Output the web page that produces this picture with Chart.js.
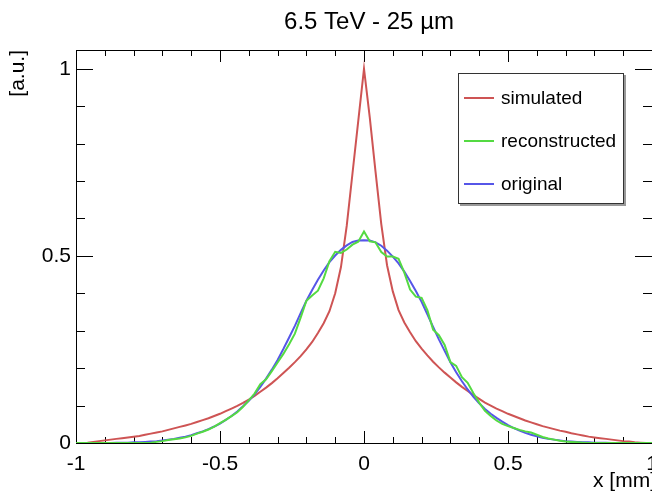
<!DOCTYPE html>
<html>
<head>
<meta charset="utf-8">
<script src="https://cdn.jsdelivr.net/npm/chart.js@4/dist/chart.umd.min.js"></script>
<style>
  html, body { margin: 0; padding: 0; overflow: hidden; background: #fff; }
  #wrap { position: relative; width: 738px; height: 491px; }
  #legend {
    position: absolute; left: 458px; top: 73px; width: 164px; height: 129px;
    border: 1px solid #333; box-shadow: 2px 2px 0 #999; background: #fff;
    font-family: "Liberation Sans", Arial, sans-serif; font-size: 19px; color: #000;
  }
  .row { position: absolute; left: 0; height: 24px; line-height: 24px; }
  .row .ln { position: absolute; left: 5px; top: 11px; width: 30px; height: 2px; }
  .row .tx { position: absolute; left: 42px; top: 0; white-space: nowrap; }
</style>
</head>
<body>
<div id="wrap">
  <canvas id="c" width="738" height="491"></canvas>
  <div id="legend"></div>
</div>
<script>
// ---- data ----
const titleText = "6.5 TeV - 25 \u00b5m";
const xAxisTitle = "x [mm]";
const yAxisTitle = "[a.u.]";
const xTickValues = [-1, -0.5, 0, 0.5, 1];
const yTickValues = [0, 0.5, 1];
const seriesNames = ["simulated", "reconstructed", "original"];
const seriesColors = ["rgb(206,84,84)", "rgb(84,218,66)", "rgb(86,86,232)"];

const xValues = [
  -1.00,-0.98,-0.96,-0.94,-0.92,-0.90,-0.88,-0.86,-0.84,-0.82,
  -0.80,-0.78,-0.76,-0.74,-0.72,-0.70,-0.68,-0.66,-0.64,-0.62,
  -0.60,-0.58,-0.56,-0.54,-0.52,-0.50,-0.48,-0.46,-0.44,-0.42,
  -0.40,-0.38,-0.36,-0.34,-0.32,-0.30,-0.28,-0.26,-0.24,-0.22,
  -0.20,-0.18,-0.16,-0.14,-0.12,-0.10,-0.08,-0.06,-0.04,-0.02,
   0.00,
   0.02, 0.04, 0.06, 0.08, 0.10, 0.12, 0.14, 0.16, 0.18, 0.20,
   0.22, 0.24, 0.26, 0.28, 0.30, 0.32, 0.34, 0.36, 0.38, 0.40,
   0.42, 0.44, 0.46, 0.48, 0.50, 0.52, 0.54, 0.56, 0.58, 0.60,
   0.62, 0.64, 0.66, 0.68, 0.70, 0.72, 0.74, 0.76, 0.78, 0.80,
   0.82, 0.84, 0.86, 0.88, 0.90, 0.92, 0.94, 0.96, 0.98, 1.00
];

const simulated = [
  0.000,0.000,0.001,0.003,0.005,0.007,0.009,0.011,0.013,0.015,
  0.017,0.019,0.022,0.025,0.028,0.031,0.035,0.039,0.043,0.047,
  0.051,0.056,0.061,0.066,0.072,0.078,0.085,0.092,0.099,0.107,
  0.116,0.126,0.137,0.148,0.160,0.173,0.187,0.201,0.216,0.232,
  0.250,0.270,0.294,0.320,0.352,0.400,0.470,0.580,0.720,0.860,
  1.000,
  0.870,0.725,0.585,0.475,0.405,0.355,0.322,0.296,0.272,0.252,
  0.234,0.217,0.202,0.188,0.175,0.162,0.150,0.139,0.128,0.118,
  0.108,0.100,0.092,0.085,0.078,0.072,0.066,0.060,0.055,0.050,
  0.045,0.041,0.037,0.033,0.030,0.026,0.023,0.020,0.017,0.015,
  0.013,0.011,0.009,0.007,0.005,0.004,0.002,0.001,0.000,0.000
];

const reconstructed = [
  0.000,0.000,0.000,0.000,0.000,0.000,0.000,0.000,0.000,0.000,
  0.000,0.000,0.000,0.001,0.003,0.005,0.008,0.010,0.012,0.015,
  0.019,0.025,0.030,0.036,0.044,0.053,0.062,0.072,0.082,0.097,
  0.114,0.132,0.157,0.170,0.192,0.215,0.238,0.264,0.292,0.335,
  0.380,0.394,0.407,0.440,0.486,0.511,0.508,0.517,0.530,0.538,
  0.565,
  0.539,0.536,0.510,0.498,0.498,0.492,0.455,0.410,0.391,0.388,
  0.355,0.303,0.288,0.262,0.216,0.206,0.176,0.161,0.133,0.108,
  0.086,0.072,0.060,0.051,0.045,0.040,0.035,0.031,0.028,0.022,
  0.016,0.012,0.009,0.006,0.004,0.003,0.002,0.001,0.000,0.000,
  0.000,0.000,0.000,0.000,0.000,0.000,0.000,0.000,0.000,0.000
];

const original = [
  0.000,0.000,0.000,0.000,0.000,0.000,0.000,0.001,0.001,0.001,
  0.002,0.002,0.003,0.004,0.005,0.007,0.009,0.011,0.014,0.017,
  0.021,0.026,0.031,0.037,0.044,0.052,0.062,0.072,0.084,0.098,
  0.113,0.130,0.150,0.172,0.196,0.222,0.251,0.282,0.313,0.347,
  0.380,0.409,0.436,0.461,0.483,0.501,0.516,0.528,0.537,0.541,
  0.542,
  0.541,0.536,0.527,0.514,0.498,0.480,0.458,0.433,0.406,0.377,
  0.344,0.310,0.277,0.246,0.216,0.189,0.165,0.143,0.123,0.106,
  0.091,0.078,0.067,0.057,0.048,0.040,0.033,0.027,0.022,0.018,
  0.014,0.011,0.009,0.007,0.005,0.004,0.003,0.002,0.002,0.001,
  0.001,0.001,0.000,0.000,0.000,0.000,0.000,0.000,0.000,0.000
];

const seriesValues = [simulated, reconstructed, original];
const FONT = "'Liberation Sans', Arial, sans-serif";

// ---- ROOT-like frame and inward ticks drawn from the chart's scales ----
const frameTicks = {
  id: 'frameTicks',
  beforeDatasetsDraw(chart) {
    const {ctx, chartArea: a, scales: {x, y}} = chart;
    ctx.save();
    ctx.strokeStyle = '#000';
    ctx.lineWidth = 1;
    ctx.strokeRect(a.left + 0.5, a.top + 0.5, a.right - a.left, a.bottom - a.top);
    ctx.beginPath();
    for (let i = -10; i <= 10; i++) {
      const v = i / 10;
      const px = Math.round(x.getPixelForValue(v)) + 0.5;
      const len = (i % 5 === 0) ? 12 : 6;
      ctx.moveTo(px, a.bottom); ctx.lineTo(px, a.bottom - len);
      ctx.moveTo(px, a.top); ctx.lineTo(px, a.top + len);
    }
    for (let i = 0; i <= 10; i++) {
      const v = i / 10;
      const py = Math.round(y.getPixelForValue(v)) + 0.5;
      const len = (i % 5 === 0) ? 17 : 9;
      ctx.moveTo(a.left, py); ctx.lineTo(a.left + len, py);
      ctx.moveTo(a.right, py); ctx.lineTo(a.right - len, py);
    }
    ctx.stroke();
    ctx.restore();
  },
  afterDraw(chart) {
    // x-axis title, right-aligned just past the end of the axis (ROOT style)
    const {ctx, chartArea: a} = chart;
    ctx.save();
    ctx.fillStyle = '#000';
    ctx.font = "21px " + FONT;
    ctx.textAlign = 'right';
    ctx.textBaseline = 'alphabetic';
    ctx.fillText(xAxisTitle, a.right + 4, 487);
    ctx.restore();
  }
};

const datasets = seriesNames.map((name, k) => ({
  label: name,
  data: xValues.map((xv, i) => ({x: xv, y: seriesValues[k][i]})),
  borderColor: seriesColors[k],
  backgroundColor: seriesColors[k],
  borderWidth: 2,
  pointRadius: 0,
  tension: 0,
  fill: false,
  order: k === 1 ? 0 : (k === 2 ? 1 : 2)
}));

new Chart(document.getElementById('c'), {
  type: 'line',
  data: { datasets },
  options: {
    responsive: false,
    animation: false,
    devicePixelRatio: 1,
    layout: { padding: 0 },
    plugins: {
      legend: { display: false },
      tooltip: { enabled: false },
      title: {
        display: true, text: titleText, color: '#000',
        font: { family: FONT, size: 24, weight: 'normal', lineHeight: 1.2 },
        padding: { top: 7.6, bottom: 13.6 }
      }
    },
    scales: {
      x: {
        type: 'linear', min: -1, max: 1,
        grid: { display: false, drawTicks: false },
        border: { display: false },
        afterBuildTicks: s => { s.ticks = xTickValues.map(v => ({value: v})); },
        afterFit: s => { s.height = 48; },
        ticks: {
          color: '#000', padding: 9, maxRotation: 0, autoSkip: false,
          font: { family: FONT, size: 21 },
          callback: v => String(v)
        },
        title: { display: false }
      },
      y: {
        type: 'linear', min: 0, max: 1.05,
        grid: { display: false, drawTicks: false },
        border: { display: false },
        afterBuildTicks: s => { s.ticks = yTickValues.map(v => ({value: v})); },
        afterFit: s => { s.width = 76; },
        ticks: {
          color: '#000', padding: 5, autoSkip: false,
          font: { family: FONT, size: 21 },
          callback: v => String(v)
        },
        title: {
          display: true, text: yAxisTitle, align: 'end', color: '#000',
          font: { family: FONT, size: 21, lineHeight: 1.0 },
          padding: { top: 8, bottom: 0 }
        }
      },
      // empty right-hand margin (the original pad continues past the picture's edge)
      yMargin: {
        type: 'linear', position: 'right', display: true,
        grid: { display: false, drawTicks: false },
        border: { display: false },
        ticks: { display: false },
        afterBuildTicks: s => { s.ticks = []; },
        afterFit: s => { s.width = 86; }
      }
    }
  },
  plugins: [frameTicks]
});

// ---- legend box (real text) built from the series arrays ----
const legend = document.getElementById('legend');
const rowTops = [12, 55, 98];
const legendOrder = [0, 1, 2];
legendOrder.forEach((k, r) => {
  const row = document.createElement('div');
  row.className = 'row';
  row.style.top = rowTops[r] + 'px';
  const ln = document.createElement('div');
  ln.className = 'ln';
  ln.style.background = seriesColors[k];
  const tx = document.createElement('div');
  tx.className = 'tx';
  tx.textContent = seriesNames[k];
  row.appendChild(ln); row.appendChild(tx);
  legend.appendChild(row);
});
</script>
</body>
</html>
